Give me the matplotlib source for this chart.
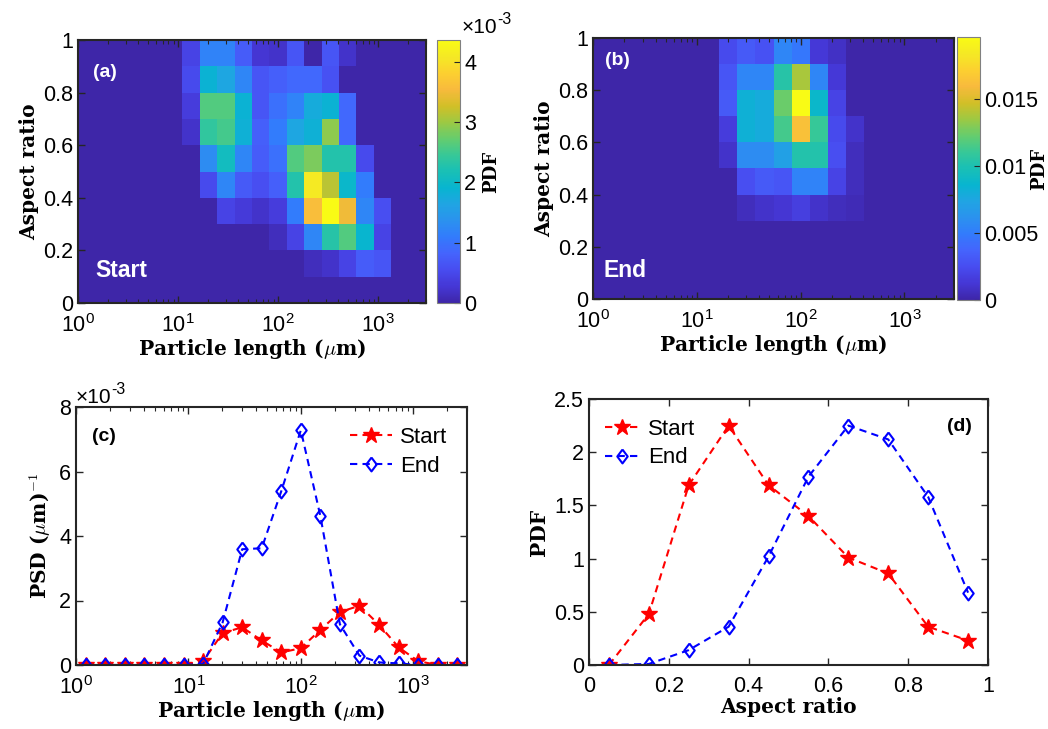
import numpy as np
import matplotlib
matplotlib.use("Agg")
import matplotlib.pyplot as plt
from matplotlib.colors import LinearSegmentedColormap
from matplotlib.ticker import FuncFormatter, LogLocator, NullFormatter, MultipleLocator

plt.rcParams['font.family'] = ['Liberation Sans', 'DejaVu Sans']
plt.rcParams['mathtext.fontset'] = 'cm'
plt.rcParams['axes.linewidth'] = 1.5

# MATLAB parula (subsampled)
parula = LinearSegmentedColormap.from_list("parula", [
    (0.2422, 0.1504, 0.6603), (0.2706, 0.2147, 0.8364), (0.2813, 0.3006, 0.9414),
    (0.2699, 0.3892, 0.9906), (0.1963, 0.4847, 0.9892), (0.1687, 0.5703, 0.9359),
    (0.1248, 0.6459, 0.8883), (0.0297, 0.7082, 0.8163), (0.0964, 0.7500, 0.7120),
    (0.2161, 0.7843, 0.5923), (0.3909, 0.8029, 0.4354), (0.6174, 0.7876, 0.2612),
    (0.8203, 0.7498, 0.1535), (0.9728, 0.7298, 0.2394), (0.9892, 0.8136, 0.1885),
    (0.9597, 0.9135, 0.1423), (0.9769, 0.9839, 0.0805)])

# bins: 20 log-spaced length bins from 1 to 3000 um, 10 aspect ratio bins
length_edges = np.logspace(0, np.log10(3000), 21)
ratio_edges = np.linspace(0, 1, 11)
length_mid = np.sqrt(length_edges[:-1] * length_edges[1:])
ratio_mid = [0.05, 0.15, 0.25, 0.35, 0.45, 0.55, 0.65, 0.75, 0.85, 0.95]

# joint PDF (x1e-3), rows = aspect ratio bins from 0 (bottom) to 1 (top)
pdf_start = [
    [0]*20,
    [0]*13 + [0.13, 0.22, 0.44, 0.74, 0.65] + [0]*2,
    [0]*11 + [0.13, 0.44, 1.22, 2.31, 2.62, 1.92, 0.44] + [0]*2,
    [0]*8 + [0.44, 0.31, 0.22, 0.35, 1.09, 3.58, 4.36, 3.49, 1.22, 0.57] + [0]*2,
    [0]*7 + [0.52, 1.22, 0.70, 0.57, 0.78, 2.27, 4.10, 3.14, 1.96, 1.09] + [0]*3,
    [0]*6 + [0, 1.31, 2.09, 1.22, 0.74, 0.96, 2.62, 2.83, 2.27, 2.27, 0.52] + [0]*3,
    [0]*6 + [0.22, 2.40, 2.53, 1.83, 0.78, 1.09, 1.66, 1.83, 2.92, 0.87] + [0]*4,
    [0]*6 + [0.35, 2.62, 2.62, 1.87, 0.65, 0.96, 1.18, 1.74, 1.87, 0.87] + [0]*4,
    [0]*6 + [0.52, 1.87, 1.66, 1.22, 0.65, 0.78, 0.87, 0.87, 0.61, 0] + [0]*4,
    [0]*6 + [0.44, 1.18, 1.18, 0.74, 0.26, 0.22, 0.65, 0, 0.65, 0.22] + [0]*4,
]
pdf_end = [
    [0]*20,
    [0]*20,
    [0]*20,
    [0]*8 + [0.59, 0.98, 1.18, 1.76, 0.98, 0.59, 0.39] + [0]*5,
    [0]*8 + [2.55, 3.14, 2.94, 5.29, 5.29, 1.96, 0.59] + [0]*5,
    [0]*7 + [0.98, 5.88, 5.88, 7.06, 10.19, 10.19, 2.55, 0.59] + [0]*5,
    [0]*7 + [1.57, 8.23, 7.84, 11.37, 16.27, 10.98, 2.35, 0.98] + [0]*5,
    [0]*7 + [3.14, 8.23, 7.84, 12.35, 19.6, 8.82, 1.96] + [0]*6,
    [0]*7 + [2.94, 5.49, 5.49, 10.39, 13.72, 5.49, 1.37] + [0]*6,
    [0]*7 + [2.35, 3.14, 2.74, 5.49, 4.70, 1.37, 0.78] + [0]*6,
]

# PSD (x1e-3 per um)
psd_start = [0, 0, 0, 0, 0, 0, 0.12, 0.99, 1.17, 0.76, 0.39, 0.52, 1.09, 1.64,
             1.84, 1.25, 0.55, 0.12, 0, 0]
psd_end = [0, 0, 0, 0, 0, 0, 0.03, 1.32, 3.59, 3.62, 5.39, 7.28, 4.62, 1.26,
           0.29, 0.08, 0.05, 0, 0, 0]

# aspect ratio PDF
ar_start = [0, 0.48, 1.69, 2.25, 1.69, 1.40, 1.01, 0.86, 0.36, 0.23]
ar_end = [0, 0.01, 0.14, 0.36, 1.02, 1.77, 2.25, 2.12, 1.58, 0.68]

W, H = 1048, 729
fig = plt.figure(figsize=(W / 100, H / 100), dpi=100)


def box(l, r, t, b):
    return [l / W, 1 - b / H, (r - l) / W, (b - t) / H]


axa = fig.add_axes(box(78, 426, 40, 303))
caxa = fig.add_axes(box(437, 460, 40, 303))
axb = fig.add_axes(box(593, 954, 38, 299))
caxb = fig.add_axes(box(957, 980, 37, 300))
axc = fig.add_axes(box(76, 467, 407, 665))
axd = fig.add_axes(box(589, 988, 399, 665))

TICK = 15.5
LAB = 14.5
serif = dict(family='DejaVu Serif', weight='bold', size=LAB)
edge = '#262626'
g = FuncFormatter(lambda v, p: '%g' % v)
xlab = r'Particle length ($\mu$m)'
ylab = 'Aspect ratio'


def style(ax):
    ax.tick_params(which='both', direction='in', top=True, right=True,
                   color=edge, labelsize=TICK)
    ax.tick_params(which='major', length=5, width=1)
    ax.tick_params(which='minor', length=3, width=0.8)
    ax.tick_params(axis='x', pad=8)
    for s in ax.spines.values():
        s.set_color(edge)


def logx(ax):
    ax.set_xscale('log')
    ax.set_xlim(1, 3000)
    ax.xaxis.set_major_locator(LogLocator(base=10, numticks=10))
    ax.xaxis.set_minor_locator(LogLocator(base=10, subs=np.arange(2, 10), numticks=10))
    ax.xaxis.set_minor_formatter(NullFormatter())


def sci(ax, x, y):
    t = ax.text(x, y, '\u00d710', transform=ax.transAxes, ha='left', va='bottom',
                fontsize=15)
    ax.annotate('-3', xy=(1, 0.55), xycoords=t, ha='left', va='bottom', fontsize=11.5)


for ax, cax, data, name, tag, tagxy, namexy in [
        (axa, caxa, pdf_start, 'Start', '(a)', (0.043, 0.878), (0.049, 0.125)),
        (axb, caxb, pdf_end, 'End', '(b)', (0.033, 0.915), (0.028, 0.111))]:
    C = np.array(data) * 1e-3
    m = ax.pcolormesh(length_edges, ratio_edges, C, cmap=parula, vmin=0,
                      vmax=C.max(), shading='flat')
    logx(ax)
    ax.set_ylim(0, 1)
    ax.yaxis.set_major_locator(MultipleLocator(0.2))
    ax.yaxis.set_major_formatter(g)
    style(ax)
    ax.set_xlabel(xlab, fontdict=serif, labelpad=0)
    ax.set_ylabel(ylab, fontdict=serif, labelpad=3)
    ax.text(*tagxy, tag, transform=ax.transAxes, color='white', fontsize=14,
            fontweight='bold', va='center')
    ax.text(*namexy, name, transform=ax.transAxes, color='white', fontsize=16.5,
            fontweight='bold', va='center')
    cb = fig.colorbar(m, cax=cax)
    cb.outline.set_edgecolor('#808080')
    cb.outline.set_linewidth(0.8)
    cax.tick_params(direction='in', length=4, width=0.8, color=edge, labelsize=TICK,
                    pad=3)

caxa.yaxis.set_major_locator(MultipleLocator(1e-3))
caxa.yaxis.set_major_formatter(FuncFormatter(lambda v, p: '%g' % round(v * 1e3, 6)))
caxa.set_ylabel('PDF', fontdict=dict(serif, size=13), labelpad=4)
sci(caxa, 1.05, 1.01)
caxb.set_yticks([0, 0.005, 0.01, 0.015])
caxb.yaxis.set_major_formatter(FuncFormatter(lambda v, p: '%g' % round(v, 6)))
caxb.set_ylabel('PDF', fontdict=dict(serif, size=13))
caxb.yaxis.set_label_coords(3.2, 0.5)

# (c) PSD
line_kw = dict(linestyle=(0, (3.5, 2.5)), linewidth=1.5)
diamond = [(0, 1), (0.75, 0), (0, -1), (-0.75, 0), (0, 1)]
axc.plot(length_mid, np.array(psd_start) * 1e-3, color='red', marker='*',
         markersize=12, label='Start', **line_kw)
axc.plot(length_mid, np.array(psd_end) * 1e-3, color='blue', marker=diamond,
         markersize=10, markerfacecolor='none', markeredgewidth=1.5,
         label='End', **line_kw)
logx(axc)
axc.set_ylim(0, 8e-3)
axc.yaxis.set_major_locator(MultipleLocator(2e-3))
axc.yaxis.set_major_formatter(FuncFormatter(lambda v, p: '%g' % round(v * 1e3, 6)))
style(axc)
sci(axc, 0.0, 1.0)
axc.set_xlabel(xlab, fontdict=serif, labelpad=0)
axc.set_ylabel(r'PSD ($\mu$m)$^{-1}$', fontdict=serif, labelpad=4)
axc.text(0.041, 0.884, '(c)', transform=axc.transAxes, fontsize=14,
         fontweight='bold', va='center')
axc.legend(loc='upper right', frameon=False, fontsize=16, handlelength=1.9,
           handletextpad=0.35, labelspacing=0.35, borderaxespad=0.5,
           borderpad=0.4)

# (d) aspect ratio PDF
axd.plot(ratio_mid, ar_start, color='red', marker='*', markersize=12,
         label='Start', **line_kw)
axd.plot(ratio_mid, ar_end, color='blue', marker=diamond, markersize=10,
         markerfacecolor='none', markeredgewidth=1.5, label='End', **line_kw)
axd.set_xlim(0, 1)
axd.set_ylim(0, 2.5)
axd.xaxis.set_major_locator(MultipleLocator(0.2))
axd.yaxis.set_major_locator(MultipleLocator(0.5))
axd.xaxis.set_major_formatter(g)
axd.yaxis.set_major_formatter(g)
style(axd)
axd.set_xlabel(ylab, fontdict=serif, labelpad=0)
axd.set_ylabel('PDF', fontdict=serif, labelpad=4)
axd.text(0.96, 0.895, '(d)', transform=axd.transAxes, fontsize=14,
         fontweight='bold', va='center', ha='right')
axd.legend(loc='upper left', bbox_to_anchor=(0.0, 0.985), frameon=False,
           fontsize=16, handlelength=1.6, handletextpad=0.35, labelspacing=0.35,
           borderaxespad=0.3, borderpad=0.4)

fig.savefig('out.png', dpi=100)
